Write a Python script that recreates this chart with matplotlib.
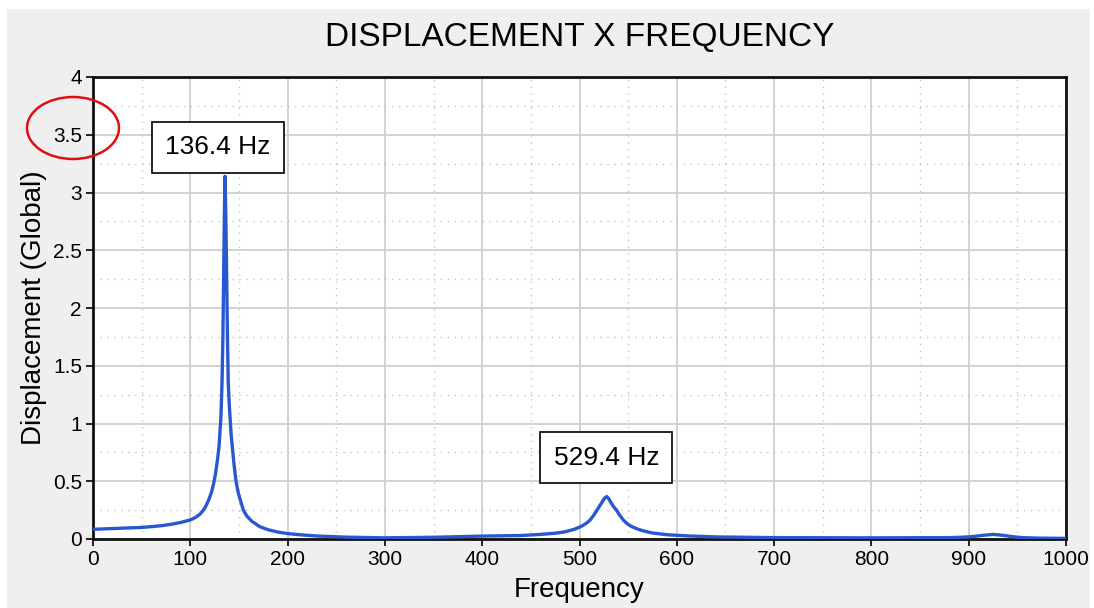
import matplotlib
matplotlib.use("Agg")
import matplotlib.pyplot as plt
from matplotlib.patches import Ellipse, Rectangle
from matplotlib.ticker import MultipleLocator

# frequency response
freq = [0, 25, 50, 60, 70, 80, 90, 100, 105, 110, 113, 116, 119, 122, 124, 126,
        128, 129.5, 130.5, 131.5, 132.6, 133.5, 134.3, 135, 135.7, 136.5, 137.3,
        138.2, 139, 140, 140.8, 142, 143.5, 145, 147, 149, 151, 154.5, 158, 163,
        171.6, 180, 190, 200, 215, 230, 260, 300, 350, 400, 440, 460, 475, 485,
        495, 502, 507, 511, 515, 518, 521, 524, 526, 528, 530, 532, 535, 538, 541,
        545, 548.5, 553, 560, 568, 575, 590, 610, 640, 700, 800, 880, 895, 905,
        915, 925, 935, 945, 955, 970, 1000]
disp = [0.084, 0.092, 0.10, 0.107, 0.115, 0.127, 0.143, 0.165, 0.185, 0.215,
        0.245, 0.285, 0.34, 0.41, 0.48, 0.57, 0.69, 0.80, 0.93, 1.06, 1.35, 1.75,
        2.3, 2.8, 3.14, 2.8, 2.3, 1.75, 1.35, 1.17, 1.06, 0.9, 0.77, 0.64, 0.5,
        0.41, 0.35, 0.25, 0.2, 0.155, 0.106, 0.08, 0.06, 0.047, 0.035, 0.026,
        0.016, 0.01, 0.015, 0.025, 0.03, 0.04, 0.05, 0.062, 0.085, 0.11, 0.136,
        0.165, 0.21, 0.25, 0.29, 0.33, 0.355, 0.368, 0.35, 0.32, 0.28, 0.25, 0.21,
        0.165, 0.136, 0.11, 0.085, 0.065, 0.052, 0.037, 0.027, 0.018, 0.012, 0.01,
        0.012, 0.016, 0.022, 0.032, 0.04, 0.032, 0.02, 0.012, 0.008, 0.005]

peak_labels = ["136.4 Hz", "529.4 Hz"]
peak_label_x = [128.5, 527.7]
peak_label_y = [3.39, 0.705]

plt.rcParams['font.family'] = ['Liberation Sans', 'DejaVu Sans']

fig = plt.figure(figsize=(10.94, 6.08), dpi=100)
fig.patch.set_facecolor('white')
# grey panel behind the chart
fig.patches.append(Rectangle((7 / 1094, 0), 1083 / 1094, 599 / 608,
                             transform=fig.transFigure, facecolor='#efefef',
                             edgecolor='none', zorder=-10))

ax = fig.add_axes([93 / 1094, 69 / 608, 973 / 1094, 462 / 608])
ax.set_facecolor('white')

ax.plot(freq, disp, color='#2857d2', linewidth=2.4, zorder=3)

ax.set_xlim(0, 1000)
ax.set_ylim(0, 4)
ax.xaxis.set_major_locator(MultipleLocator(100))
ax.xaxis.set_minor_locator(MultipleLocator(50))
ax.yaxis.set_major_locator(MultipleLocator(0.5))
ax.yaxis.set_minor_locator(MultipleLocator(0.25))
ax.set_yticks([0, 0.5, 1, 1.5, 2, 2.5, 3, 3.5, 4])
ax.set_yticklabels(['0', '0.5', '1', '1.5', '2', '2.5', '3', '3.5', '4'])

ax.grid(True, which='major', color='#cfcfcf', linewidth=1.3, linestyle='-')
ax.grid(True, which='minor', color='#c4c4c4', linewidth=1.0, linestyle=(0, (1, 4)))
ax.set_axisbelow(True)

ax.tick_params(which='major', direction='out', length=5, width=1.2, labelsize=15,
               colors='black', pad=3)
ax.tick_params(which='minor', length=0)
for s in ax.spines.values():
    s.set_linewidth(2)
    s.set_color('#111111')

ax.set_xlabel("Frequency", fontsize=20, labelpad=6)
ax.set_ylabel("Displacement (Global)", fontsize=20, labelpad=4)
ax.set_title("DISPLACEMENT X FREQUENCY", fontsize=24, pad=22)

for lab, lx, ly in zip(peak_labels, peak_label_x, peak_label_y):
    ax.text(lx, ly, lab, fontsize=19, ha='center', va='center', zorder=5,
            bbox=dict(boxstyle='square,pad=0.5', facecolor='white',
                      edgecolor='black', linewidth=1.2))

# red circle around the 3.5 tick label
fig.patches.append(Ellipse((73 / 1094, 1 - 128 / 608), 92 / 1094, 62 / 608,
                           transform=fig.transFigure, facecolor='none',
                           edgecolor='#e01010', linewidth=1.8, zorder=10))

fig.savefig('out.png', dpi=100, facecolor=fig.get_facecolor())
